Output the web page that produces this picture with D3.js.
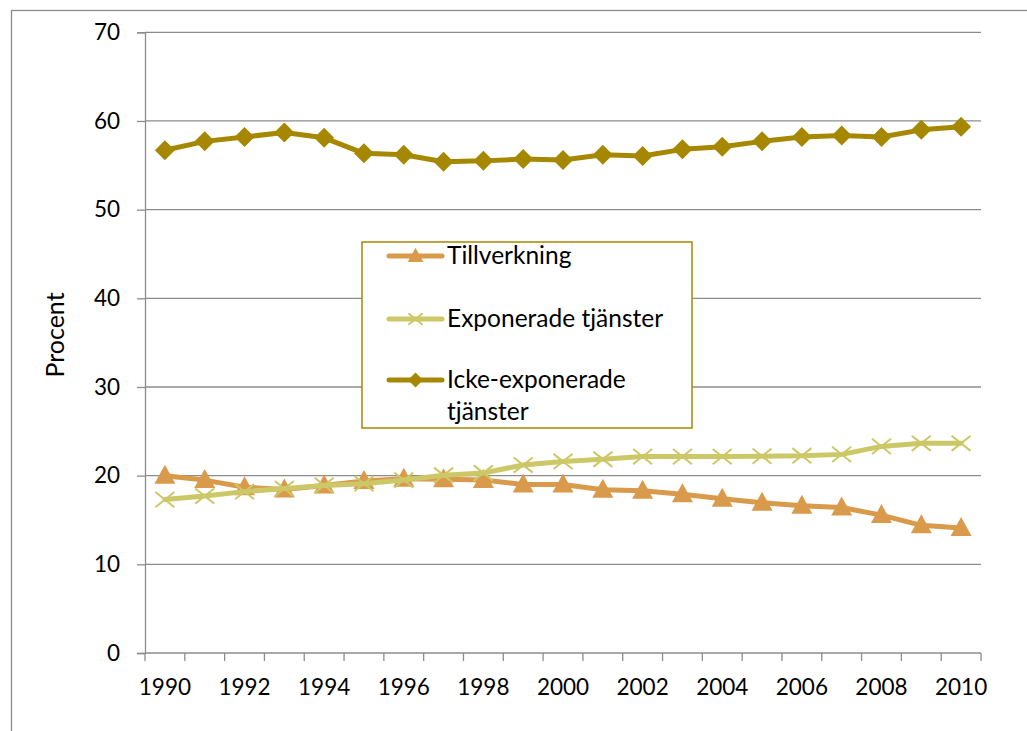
<!DOCTYPE html>
<html>
<head>
<meta charset="utf-8">
<script src="https://cdn.jsdelivr.net/npm/d3@7"></script>
<style>
  html, body { margin: 0; padding: 0; background: #fff; }
  svg { display: block; font-family: Lato, "Open Sans", sans-serif; }
</style>
</head>
<body>
<svg id="chart" width="1027" height="731"></svg>
<script>
// Andel sysselsatta per sektor, 1990–2010 (procent)
const years = d3.range(1990, 2011);
const tickYears = [1990, 1992, 1994, 1996, 1998, 2000, 2002, 2004, 2006, 2008, 2010];
const yTicks = [0, 10, 20, 30, 40, 50, 60, 70];

const tillverkning = [20.0, 19.5, 18.7, 18.45, 18.9, 19.4, 19.65, 19.6, 19.5, 19.0, 19.0,
                      18.4, 18.3, 17.9, 17.4, 16.95, 16.6, 16.4, 15.55, 14.4, 14.1];
const exponerade   = [17.3, 17.7, 18.2, 18.55, 18.9, 19.1, 19.5, 20.05, 20.3, 21.2, 21.6,
                      21.85, 22.15, 22.15, 22.15, 22.2, 22.25, 22.4, 23.3, 23.65, 23.65];
const ickeExp      = [56.7, 57.7, 58.2, 58.7, 58.1, 56.35, 56.2, 55.4, 55.5, 55.7, 55.6,
                      56.2, 56.05, 56.8, 57.1, 57.7, 58.2, 58.35, 58.2, 59.0, 59.35];

const seriesNames = ["Tillverkning", "Exponerade tjänster", "Icke-exponerade tjänster"];
const seriesColors = ["#D99A4C", "#CCC868", "#A68800"];
const seriesMarkers = ["triangle", "cross", "diamond"];
const seriesValues = [tillverkning, exponerade, ickeExp];

const svg = d3.select("#chart");
const plotLeft = 145, plotRight = 981, plotTop = 32.3, plotBottom = 653;

// outer chart frame
svg.append("rect")
  .attr("x", 11.5).attr("y", 10.5)
  .attr("width", 1100).attr("height", 800)
  .attr("fill", "none").attr("stroke", "#8c8c8c").attr("stroke-width", 1.3);

const x = d3.scaleBand().domain(years).range([plotLeft, plotRight]);
const y = d3.scaleLinear().domain([0, 70]).range([plotBottom, plotTop]);
const cx = d => x(d) + x.bandwidth() / 2;

// gridlines
svg.append("g").selectAll("line").data(yTicks.filter(v => v > 0)).join("line")
  .attr("x1", plotLeft).attr("x2", plotRight)
  .attr("y1", d => y(d)).attr("y2", d => y(d))
  .attr("stroke", "#8c8c8c").attr("stroke-width", 1.3);

// y axis
const yAxis = svg.append("g").attr("transform", `translate(${plotLeft},0)`)
  .call(d3.axisLeft(y).tickValues(yTicks).tickSize(8).tickPadding(17).tickFormat(d3.format("d")));
yAxis.select(".domain").attr("stroke", "#8c8c8c").attr("stroke-width", 1.3);
yAxis.selectAll(".tick line").attr("stroke", "#8c8c8c").attr("stroke-width", 1.3);
yAxis.selectAll("text").attr("font-size", 22.5).attr("fill", "#000")
  .attr("font-family", "Lato, sans-serif");

// x axis: ticks on category boundaries
const xg = svg.append("g").attr("transform", `translate(0,${plotBottom})`);
xg.append("line").attr("x1", plotLeft).attr("x2", plotRight).attr("y1", 0).attr("y2", 0)
  .attr("stroke", "#8c8c8c").attr("stroke-width", 1.3);
const bounds = years.map(d => x(d)).concat([plotRight]);
xg.selectAll("line.tk").data(bounds).join("line").attr("class", "tk")
  .attr("x1", d => d).attr("x2", d => d).attr("y1", 0).attr("y2", 8)
  .attr("stroke", "#8c8c8c").attr("stroke-width", 1.3);
xg.selectAll("text").data(tickYears).join("text")
  .attr("x", d => cx(d)).attr("y", 42)
  .attr("text-anchor", "middle").attr("font-size", 22.5).attr("fill", "#000")
  .text(d => d);

// y axis title
svg.append("text")
  .attr("transform", "translate(64,335) rotate(-90)")
  .attr("text-anchor", "middle").attr("font-size", 25).attr("fill", "#000")
  .text("Procent");

// marker drawing
function drawMarker(g, type, color, px, py, scale = 1) {
  if (type === "triangle") {
    g.append("path")
      .attr("d", `M${px},${py - 11 * scale} L${px + 10.5 * scale},${py + 8 * scale} L${px - 10.5 * scale},${py + 8 * scale} Z`)
      .attr("fill", color);
  } else if (type === "diamond") {
    const r = 10 * scale;
    g.append("path")
      .attr("d", `M${px},${py - r} L${px + r},${py} L${px},${py + r} L${px - r},${py} Z`)
      .attr("fill", color);
  } else {
    const r = 9.5 * scale;
    g.append("path")
      .attr("d", `M${px - r},${py - r * 0.8} L${px + r},${py + r * 0.8} M${px - r},${py + r * 0.8} L${px + r},${py - r * 0.8}`)
      .attr("stroke", color).attr("stroke-width", 2).attr("fill", "none");
  }
}

const line = d3.line().x((d, i) => cx(years[i])).y(d => y(d));

seriesValues.forEach((vals, si) => {
  const g = svg.append("g");
  g.append("path").datum(vals)
    .attr("d", line).attr("fill", "none")
    .attr("stroke", seriesColors[si]).attr("stroke-width", 5)
    .attr("stroke-linejoin", "round").attr("stroke-linecap", "round");
  vals.forEach((v, i) => drawMarker(g, seriesMarkers[si], seriesColors[si], cx(years[i]), y(v)));
});

// legend
const lg = svg.append("g");
lg.append("rect").attr("x", 362).attr("y", 242).attr("width", 330).attr("height", 186)
  .attr("fill", "#fff").attr("stroke", "#A68800").attr("stroke-width", 1.5);
const legendRows = [
  { y: 256, lines: ["Tillverkning"] },
  { y: 319, lines: ["Exponerade tjänster"] },
  { y: 380, lines: ["Icke-exponerade", "tjänster"] }
];
legendRows.forEach((row, si) => {
  lg.append("line").attr("x1", 389).attr("x2", 442).attr("y1", row.y).attr("y2", row.y)
    .attr("stroke", seriesColors[si]).attr("stroke-width", 5).attr("stroke-linecap", "round");
  drawMarker(lg, seriesMarkers[si], seriesColors[si], 415.5, row.y, 0.75);
  row.lines.forEach((t, k) => {
    lg.append("text").attr("x", 447).attr("y", row.y + 8 + k * 32)
      .attr("font-size", 24.5).attr("fill", "#000").text(t);
  });
});
</script>
</body>
</html>
